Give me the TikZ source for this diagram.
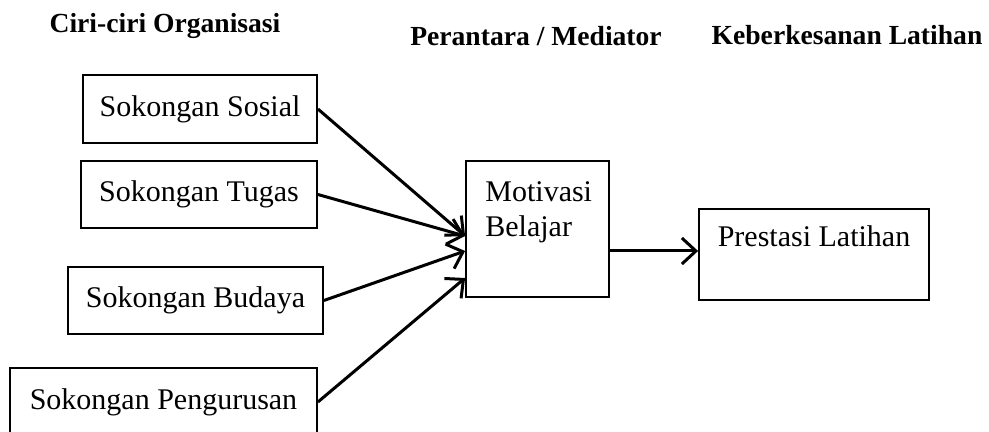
\documentclass[tikz,border=0pt]{standalone}
\usepackage{fontspec}
\setmainfont{Liberation Serif}
\usetikzlibrary{arrows.meta}

\begin{document}
\begin{tikzpicture}[x=0.5pt, y=-0.5pt,
	kotak/.style={draw, line width=0.9pt, inner sep=0pt, font=\fontsize{15}{17.5}\selectfont},
	teks/.style={inner sep=0pt, font=\fontsize{15}{17.5}\selectfont},
	judul/.style={anchor=base, inner sep=0pt, font=\fontsize{13.8}{16}\selectfont\bfseries},
	panah/.style={line width=1.5pt, -{Straight Barb[length=7pt,width=13pt,line width=1.5pt]}}]
	\useasboundingbox (0,0) rectangle (989,432);
	% tajuk lajur
	\node[judul] (ciri) at (165,33) {Ciri-ciri Organisasi};
	\node[judul] (perantara) at (536,46) {Perantara / Mediator};
	\node[judul] (keberkesanan) at (847,45) {Keberkesanan Latihan};
	% sokongan
	\node[kotak, minimum width=117pt, minimum height=34pt] (sosial) at (200,109) {Sokongan Sosial};
	\node[kotak, minimum width=118pt, minimum height=33.5pt] (tugas) at (199,194.5) {Sokongan Tugas};
	\node[kotak, minimum width=127.5pt, minimum height=33.5pt] (budaya) at (195.5,300.5) {Sokongan Budaya};
	\node[kotak, minimum width=153.5pt, minimum height=34pt] (pengurusan) at (163.5,402) {Sokongan Pengurusan};
	% perantara dan hasil
	\node[kotak, minimum width=71.5pt, minimum height=68pt] (motivasi) at (537.5,229) {};
	\node[teks, anchor=north west, align=left] (motivasiteks) at (485,181) {Motivasi\\Belajar};
	\node[kotak, minimum width=115pt, minimum height=45.5pt] (prestasi) at (814,254.5) {};
	\node[teks, anchor=base] (prestasiteks) at (814,247) {Prestasi Latihan};
	% anak panah
	\coordinate (m1) at ([yshift=-3.5pt]motivasi.west);
	\coordinate (m2) at ([yshift=-11pt]motivasi.west);
	\coordinate (m3) at ([yshift=-24.5pt]motivasi.west);
	\coordinate (m4) at ([yshift=-11pt]motivasi.east);
	\draw[panah] (sosial.east) -- (m1);
	\draw[panah] (tugas.east) -- (m1);
	\draw[panah] (budaya.east) -- (m2);
	\draw[panah] (pengurusan.east) -- (m3);
	\draw[panah] (m4) -- (m4 -| prestasi.west);
\end{tikzpicture}
\end{document}
